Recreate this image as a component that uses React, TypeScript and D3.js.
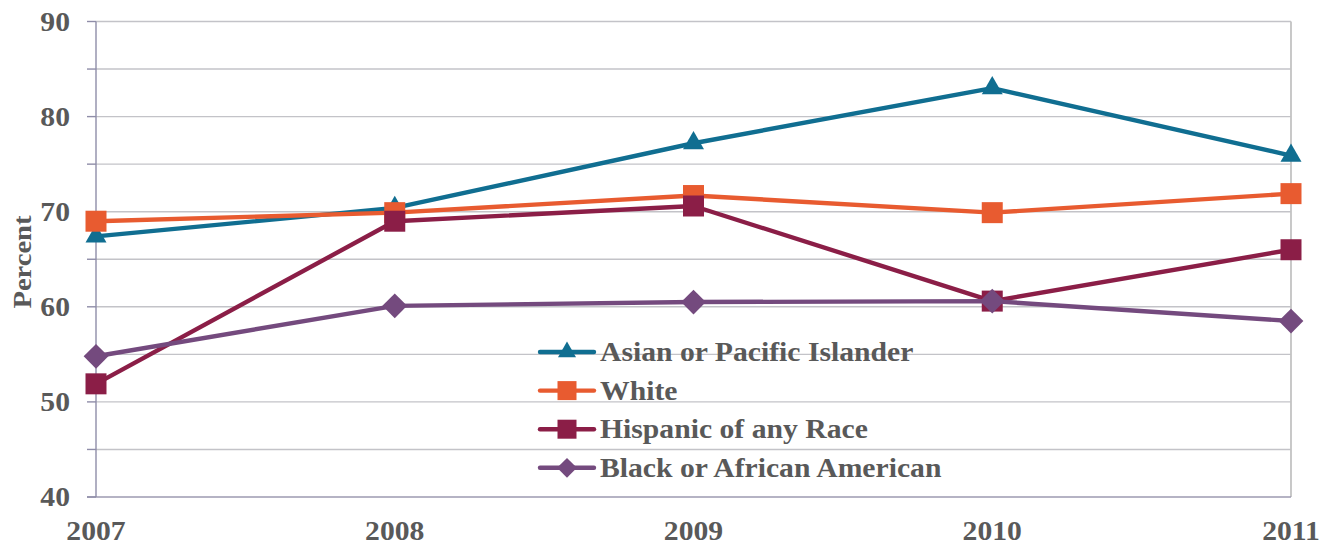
import React from "react";
import * as d3 from "d3";

const years = [2007, 2008, 2009, 2010, 2011];
const yTicks = [40, 50, 60, 70, 80, 90];
const gridValues = [45, 50, 55, 60, 65, 70, 75, 80, 85, 90];

const seriesNames = [
  "Asian or Pacific Islander",
  "White",
  "Hispanic of any Race",
  "Black or African American",
];
const asianValues = [67.4, 70.4, 77.2, 83.0, 75.9];
const whiteValues = [69.0, 69.9, 71.7, 69.9, 71.9];
const hispanicValues = [51.9, 69.0, 70.6, 60.6, 66.0];
const blackValues = [54.8, 60.1, 60.5, 60.6, 58.5];
const seriesColors = ["#106e91", "#e85b30", "#8b1e47", "#744a7e"];
const seriesMarkers = ["triangle", "square", "square", "diamond"];

const W = 1337;
const H = 546;
const left = 96;
const right = 1291;
const top = 21.5;
const bottom = 497;
const SX = 1.12;
const textColor = "#595959";
const font = "'Liberation Serif', 'Times New Roman', serif";

function markerPath(kind: string, big: boolean) {
  if (kind === "triangle") {
    const side = big ? 21 : 18;
    return d3.symbol(d3.symbolTriangle, (Math.sqrt(3) / 4) * side * side)() as string;
  }
  if (kind === "diamond") {
    const s = big ? 17.5 : 14;
    return d3.symbol(d3.symbolSquare, s * s)() as string;
  }
  const s = big ? 21 : 19;
  return d3.symbol(d3.symbolSquare, s * s)() as string;
}

export default function App() {
  const x = d3.scalePoint<number>().domain(years).range([left, right]);
  const y = d3.scaleLinear().domain([40, 90]).range([bottom, top]);
  const allValues = [asianValues, whiteValues, hispanicValues, blackValues];
  const line = d3
    .line<number>()
    .x((_, i) => x(years[i]) as number)
    .y((d) => y(d));

  const legendX1 = 540;
  const legendX2 = 594;
  const legendTextX = 600;
  const legendY0 = 352;
  const legendStep = 38.6;

  return (
    <svg
      width={W}
      height={H}
      style={{ position: "absolute", left: 0, top: 0, background: "#fff" }}
    >
      {gridValues.map((v) => (
        <line
          key={"g" + v}
          x1={left}
          x2={right}
          y1={y(v)}
          y2={y(v)}
          stroke="#c3c3c8"
          strokeWidth={1.4}
        />
      ))}
      <line x1={right} x2={right} y1={top} y2={bottom} stroke="#c3c3c3" strokeWidth={1.8} />
      <line x1={87} x2={right} y1={bottom} y2={bottom} stroke="#9c9ab0" strokeWidth={1.4} />
      <line x1={left} x2={left} y1={top} y2={bottom} stroke="#8f8da8" strokeWidth={1.4} />
      {[...gridValues, 40].map((v) => (
        <line
          key={"t" + v}
          x1={87}
          x2={left}
          y1={y(v)}
          y2={y(v)}
          stroke="#8f8da8"
          strokeWidth={1.4}
        />
      ))}
      {yTicks.map((v) => (
        <text
          key={"yl" + v}
          transform={`translate(70,${y(v) + 9}) scale(${SX},1)`}
          textAnchor="end"
          fontFamily={font}
          fontWeight="bold"
          fontSize={26.5}
          fill={textColor}
        >
          {v}
        </text>
      ))}
      {years.map((yr) => (
        <text
          key={"xl" + yr}
          transform={`translate(${x(yr)},540) scale(${SX},1)`}
          textAnchor="middle"
          fontFamily={font}
          fontWeight="bold"
          fontSize={26.5}
          fill={textColor}
        >
          {yr}
        </text>
      ))}
      <text
        transform={`translate(31,262) rotate(-90) scale(${SX},1)`}
        textAnchor="middle"
        fontFamily={font}
        fontWeight="bold"
        fontSize={25.5}
        fill={textColor}
      >
        Percent
      </text>
      {allValues.map((vals, si) => (
        <g key={"s" + si}>
          <path
            d={line(vals) as string}
            fill="none"
            stroke={seriesColors[si]}
            strokeWidth={4.4}
            strokeLinejoin="round"
            strokeLinecap="round"
          />
          {vals.map((v, i) => (
            <path
              key={"m" + i}
              d={markerPath(seriesMarkers[si], true)}
              transform={`translate(${x(years[i])},${y(v)})${
                seriesMarkers[si] === "diamond" ? " rotate(45)" : ""
              }`}
              fill={seriesColors[si]}
            />
          ))}
        </g>
      ))}
      {seriesNames.map((name, si) => {
        const ly = legendY0 + si * legendStep;
        const mx = (legendX1 + legendX2) / 2;
        return (
          <g key={"l" + si}>
            <line
              x1={legendX1}
              x2={legendX2}
              y1={ly}
              y2={ly}
              stroke={seriesColors[si]}
              strokeWidth={4.4}
              strokeLinecap="round"
            />
            <path
              d={markerPath(seriesMarkers[si], false)}
              transform={`translate(${mx},${ly})${
                seriesMarkers[si] === "diamond" ? " rotate(45)" : ""
              }`}
              fill={seriesColors[si]}
            />
            <text
              transform={`translate(${legendTextX},${ly + 9}) scale(${SX},1)`}
              fontFamily={font}
              fontWeight="bold"
              fontSize={26.5}
              fill={textColor}
            >
              {name}
            </text>
          </g>
        );
      })}
    </svg>
  );
}
